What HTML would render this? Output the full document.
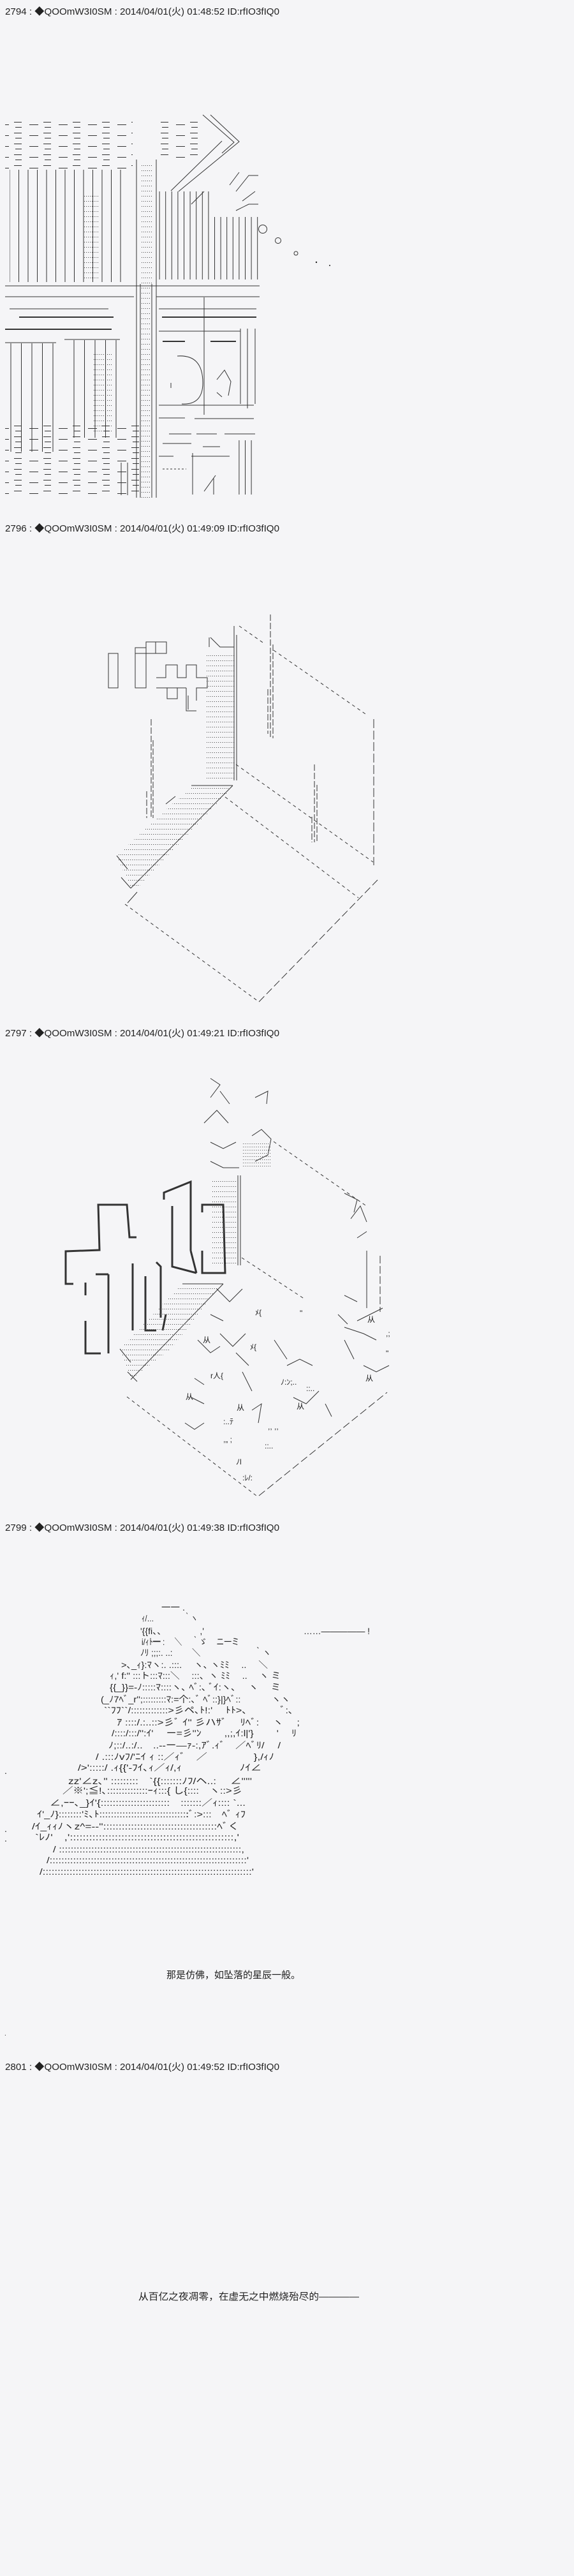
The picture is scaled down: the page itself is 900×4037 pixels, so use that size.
<!DOCTYPE html>
<html><head><meta charset="utf-8"><style>
html,body{margin:0;padding:0;background:#f5f5f7;}
body{width:900px;height:4037px;overflow:hidden;position:relative;}
svg{position:absolute;left:0;top:0;}
text{font-family:"Liberation Sans","Noto Sans CJK JP",sans-serif;fill:#222;}
</style></head><body>
<svg width="900" height="4037" viewBox="0 0 900 4037" xmlns="http://www.w3.org/2000/svg">
<defs>
<pattern id="v10" width="9.6" height="10" patternUnits="userSpaceOnUse"><rect x="0" y="0" width="1" height="10" fill="#333"/></pattern>
<pattern id="v14" width="14.5" height="10" patternUnits="userSpaceOnUse"><rect x="0" y="0" width="1" height="10" fill="#333"/></pattern>
<pattern id="v16" width="16.5" height="10" patternUnits="userSpaceOnUse"><rect x="0" y="0" width="1" height="10" fill="#333"/></pattern>
<pattern id="dots" width="3" height="8" patternUnits="userSpaceOnUse"><rect x="0" y="3" width="1" height="1" fill="#444"/></pattern>
<pattern id="dots2" width="3" height="5" patternUnits="userSpaceOnUse"><rect x="0" y="2" width="1" height="1" fill="#555"/></pattern>
<pattern id="hd" width="46" height="17" patternUnits="userSpaceOnUse"><rect x="0" y="8" width="14" height="1" fill="#333"/><rect x="22" y="4" width="12" height="1" fill="#333"/><rect x="24" y="12" width="10" height="1" fill="#333"/></pattern>
</defs>

<g font-size="15">
<text x="8" y="23" textLength="430" lengthAdjust="spacingAndGlyphs">2794 : ◆QOOmW3I0SM : 2014/04/01(火) 01:48:52 ID:rfIO3fIQ0</text>
<text x="8" y="833" textLength="430" lengthAdjust="spacingAndGlyphs">2796 : ◆QOOmW3I0SM : 2014/04/01(火) 01:49:09 ID:rfIO3fIQ0</text>
<text x="8" y="1624" textLength="430" lengthAdjust="spacingAndGlyphs">2797 : ◆QOOmW3I0SM : 2014/04/01(火) 01:49:21 ID:rfIO3fIQ0</text>
<text x="8" y="2399" textLength="430" lengthAdjust="spacingAndGlyphs">2799 : ◆QOOmW3I0SM : 2014/04/01(火) 01:49:38 ID:rfIO3fIQ0</text>
<text x="8" y="3244" textLength="430" lengthAdjust="spacingAndGlyphs">2801 : ◆QOOmW3I0SM : 2014/04/01(火) 01:49:52 ID:rfIO3fIQ0</text>
</g>

<!-- SECTION 1 -->
<g stroke="#333" stroke-width="1" fill="none">
<rect x="8" y="188" width="200" height="76" fill="url(#hd)" stroke="none"/>
<rect x="250" y="190" width="70" height="60" fill="url(#hd)" stroke="none"/>
<rect x="15" y="266" width="180" height="176" fill="url(#v14)" stroke="none"/>
<rect x="132" y="300" width="22" height="138" fill="url(#dots)" stroke="none"/>
<line x1="214" y1="250" x2="214" y2="780"/><line x1="245" y1="250" x2="245" y2="780"/>
<line x1="220" y1="445" x2="220" y2="780"/><line x1="238" y1="445" x2="238" y2="780"/>
<rect x="222" y="255" width="16" height="190" fill="url(#dots)" stroke="none"/>
<rect x="222" y="450" width="14" height="330" fill="url(#dots)" stroke="none"/>
<rect x="249" y="340" width="156" height="98" fill="url(#v10)" stroke="none"/>
<rect x="249" y="300" width="80" height="40" fill="url(#v10)" stroke="none"/>
<path d="M318 180 L367 223 L348 240 M330 180 L375 222 L280 300 M268 299 L348 221 M300 320 L320 300"/>
<path d="M360 290 L375 270 M370 300 L390 275 L405 275 M380 315 L400 300 M370 330 L390 320 L405 320"/>
<line x1="8" y1="448" x2="407" y2="448"/>
<line x1="8" y1="465" x2="210" y2="465"/><line x1="245" y1="465" x2="407" y2="465"/>
<line x1="15" y1="484" x2="170" y2="484"/><line x1="249" y1="484" x2="402" y2="484"/>
<line x1="30" y1="497" x2="178" y2="497" stroke-width="2"/><line x1="254" y1="497" x2="402" y2="497" stroke-width="2"/>
<line x1="8" y1="516" x2="175" y2="516" stroke-width="2"/><line x1="249" y1="519" x2="377" y2="519"/>
<line x1="8" y1="537" x2="88" y2="537"/><line x1="101" y1="532" x2="188" y2="532"/>
<rect x="15" y="538" width="70" height="170" fill="url(#v16)" stroke="none"/>
<rect x="101" y="533" width="88" height="153" fill="url(#v16)" stroke="none"/>
<rect x="146" y="550" width="30" height="130" fill="url(#dots)" stroke="none"/>
<line x1="320" y1="466" x2="320" y2="650"/>
<line x1="377" y1="515" x2="377" y2="633"/><line x1="388" y1="515" x2="388" y2="640"/><line x1="400" y1="515" x2="400" y2="633"/>
<line x1="255" y1="535" x2="290" y2="535" stroke-width="2"/><line x1="330" y1="535" x2="370" y2="535" stroke-width="2"/>
<path d="M278 558 Q318 555 318 600 Q318 635 285 633 M268 600 L268 608" />
<path d="M340 595 L352 580 L362 598 L358 620 M340 615 L348 622"/>
<line x1="249" y1="635" x2="398" y2="635"/>
<line x1="249" y1="655" x2="290" y2="655"/><line x1="305" y1="656" x2="398" y2="656"/>
<line x1="265" y1="680" x2="300" y2="680"/><line x1="308" y1="680" x2="340" y2="680"/><line x1="352" y1="680" x2="400" y2="680"/>
<line x1="255" y1="695" x2="300" y2="695"/><line x1="318" y1="700" x2="345" y2="700"/>
<rect x="368" y="690" width="32" height="85" fill="url(#v10)" stroke="none"/>
<line x1="249" y1="715" x2="272" y2="715"/><line x1="300" y1="715" x2="360" y2="715"/>
<line x1="302" y1="710" x2="302" y2="775"/><line x1="335" y1="750" x2="335" y2="775"/><line x1="320" y1="770" x2="338" y2="745"/>
<line x1="255" y1="735" x2="292" y2="735" stroke-dasharray="3 3"/>
<rect x="8" y="666" width="210" height="110" fill="url(#hd)" stroke="none"/>
<line x1="190" y1="725" x2="190" y2="776"/><line x1="200" y1="725" x2="200" y2="776"/>
<circle cx="412" cy="359" r="6.5"/><circle cx="436" cy="377" r="4.5"/><circle cx="464" cy="397" r="3"/>
</g>
<circle cx="496" cy="411" r="1.2" fill="#222"/><circle cx="517" cy="416" r="1" fill="#222"/>

<!-- SECTION 2 -->
<g stroke="#333" stroke-width="1" fill="none">
<path d="M375 981 L415 1009 M429 1019 L576 1121" stroke-dasharray="5 5"/>
<line x1="586" y1="1127" x2="586" y2="1356" stroke-dasharray="14 4"/>
<path d="M196 1417 L406 1570" stroke-dasharray="5 5"/>
<path d="M406 1570 L592 1379" stroke-dasharray="12 5"/>
<path d="M370 1198 L585 1351" stroke-dasharray="5 5"/>
<path d="M353 1249 L562 1407" stroke-dasharray="5 5"/>
<line x1="367" y1="981" x2="367" y2="1223"/><line x1="371" y1="995" x2="371" y2="1223"/>
<path d="M328 999 L328 1014 M330 999 L345 1014 L367 1014"/>
<rect x="324" y="1020" width="44" height="200" fill="url(#dots)" stroke="none"/>
<rect x="170" y="1024" width="15" height="54"/>
<rect x="212" y="1024" width="17" height="54"/>
<path d="M212 1024 L212 1015 L229 1015 M229 1006 L261 1006 L261 1024 L229 1024 Z M244 1006 L244 1024"/>
<path d="M245 1062 L260 1062 L260 1042 L278 1042 L278 1062 L292 1062 L292 1042 L308 1042 L308 1062 L325 1062 L325 1078 L308 1078 L308 1098 M292 1078 L278 1078 L278 1095 L262 1095 L262 1078 L245 1078 Z M292 1078 L292 1114 L308 1114 M295 1090 L295 1112"/>
<path d="M237 1127 L237 1282 M240 1160 L240 1282 M230 1240 L230 1282" stroke-dasharray="10 3"/>
<path d="M424 963 L424 1157 M428 1010 L428 1157 M420 1080 L420 1150" stroke-dasharray="10 3"/>
<path d="M493 1198 L493 1320 M497 1230 L497 1320 M489 1280 L489 1320" stroke-dasharray="10 3"/>
<polygon points="304,1231 367,1231 215,1392 205,1392 183,1341 270,1260" fill="url(#dots)" stroke="none"/>
<path d="M300 1231 L365 1231 M365 1231 L205 1392 M183 1341 L200 1362 M260 1260 L275 1248 M205 1392 L190 1375"/>
<path d="M200 1415 L215 1398"/>
</g>

<!-- SECTION 3 -->
<g stroke="#333" stroke-width="1" fill="none">
<path d="M429 1789 L576 1891" stroke-dasharray="5 5"/>
<line x1="596" y1="1968" x2="596" y2="2056" stroke-dasharray="12 4"/>
<path d="M199 2189 L402 2344" stroke-dasharray="5 5"/>
<path d="M406 2344 L607 2182" stroke-dasharray="12 5"/>
<path d="M379 1971 L478 2036" stroke-dasharray="5 5"/>
<line x1="373" y1="1842" x2="373" y2="1983"/><line x1="377" y1="1842" x2="377" y2="1983"/>
<rect x="332" y="1845" width="40" height="135" fill="url(#dots)" stroke="none"/>
<path d="M330 1690 L345 1700 L330 1720 M345 1710 L360 1730 M320 1760 L340 1740 L358 1760 M330 1790 L350 1800 L370 1790 M400 1720 L420 1710 L418 1730 M395 1780 L410 1770 L425 1785 L420 1810 L400 1820 M330 1820 L350 1830 L375 1830"/>
<rect x="380" y="1790" width="45" height="40" fill="url(#dots2)" stroke="none"/>
<g stroke-width="3">
<path d="M103 1981 L103 1961 L156 1959 L154 1888 L199 1888 L203 1939 L214 1939 M103 1961 L103 2012 L115 2012"/>
<path d="M257 1880 L257 1869 L299 1852 L299 1960 M270 1890 L270 1985 L308 1995 M299 1960 L308 1995"/>
<path d="M317 1900 L317 1888 L350 1888 L353 1995 L317 1995 L317 1960"/>
<path d="M134 2010 L134 2030 M170 1997 L170 2121 M134 2070 L134 2121 L158 2121 M150 1997 L170 1997"/>
<path d="M208 1980 L208 2085 M245 1978 L252 1985 L252 2065 M228 2000 L228 2085 L245 2085 M260 2060 L255 2085"/>
</g>
<polygon points="286,2012 348,2012 268,2114 205,2162 188,2114" fill="url(#dots)" stroke="none"/>
<path d="M286 2012 L350 2012 M350 2012 L205 2162 M188 2114 L205 2135 M200 2150 L215 2165"/>
<path d="M540 1870 L560 1880 L555 1900 M550 1910 L565 1890 L575 1915 M560 1940 L575 1930 M575 1960 L575 2050 M600 2050 L560 2070 M540 2080 L570 2090 L590 2100 M540 2100 L555 2130 M570 2140 L590 2150 L610 2140 M540 2030 L560 2040 M530 2060 L545 2075"/>
<path d="M340 2020 L360 2040 L380 2020 M330 2060 L350 2070 M345 2090 L365 2110 L385 2090 M370 2120 L390 2140 M380 2150 L395 2180 M310 2100 L330 2120 L345 2110 M305 2160 L320 2170 M300 2190 L320 2200 M290 2230 L305 2240 L320 2230 M395 2210 L410 2200 L405 2230 M430 2100 L450 2130 M450 2140 L470 2130 L490 2140 M460 2190 L480 2200 L500 2180 M510 2200 L520 2220"/>
</g>
<g font-size="12" fill="#222">
<text x="318" y="2104">从</text><text x="291" y="2193">从</text><text x="371" y="2210">从</text><text x="465" y="2208">从</text><text x="576" y="2072">从</text><text x="573" y="2164">从</text><text x="392" y="2115">ﾒ{</text><text x="400" y="2061">ﾒ{</text>
<text x="350" y="2232">:..ﾃ</text><text x="420" y="2240">,, ,,</text><text x="415" y="2270">::..</text><text x="370" y="2295">ﾉl</text><text x="380" y="2320">:ﾚ/:</text><text x="480" y="2180">::..</text><text x="440" y="2170">ﾉ:ﾝ;..</text>
<text x="350" y="2260">,„ ;</text><text x="330" y="2160">r人{</text><text x="470" y="2062">"</text><text x="605" y="2094">,;</text><text x="605" y="2125">"</text>
</g>

<!-- SECTION 4 text -->
<g font-size="14" fill="#222">
<text x="253" y="2524" textLength="37" lengthAdjust="spacingAndGlyphs">一一 .</text>
<text x="222" y="2541" textLength="88" lengthAdjust="spacingAndGlyphs">ｨ/…　　　　 ｀ヽ</text>
<text x="220" y="2561" textLength="100" lengthAdjust="spacingAndGlyphs">'{{fi、、　　　　 ,'</text>
<text x="222" y="2578" textLength="153" lengthAdjust="spacingAndGlyphs">i/ｨﾄ━ :　 ＼　 ｀ゞ　 ニ一ミ</text>
<text x="220" y="2595" textLength="205" lengthAdjust="spacingAndGlyphs">ﾉﾘ ;;;:. ..:　　 ＼　　　　　　 ｀ヽ</text>
<text x="190" y="2614" textLength="230" lengthAdjust="spacingAndGlyphs">>､_ｨ}:ﾏヽ:. .:::.　 ヽ､ ヽﾐﾐ　 ..　 ＼</text>
<text x="172" y="2631" textLength="268" lengthAdjust="spacingAndGlyphs">ｨ,' f:'' :::ト:::ﾏ:::＼　 :::、ヽ ﾐﾐ　 ..　 ヽ ミ</text>
<text x="172" y="2649" textLength="268" lengthAdjust="spacingAndGlyphs">{{_}}=-ﾉ:::::ﾏ::::ヽ､ ﾍﾞ:､ ﾞｲ:ヽ､　 ヽ　 ミ</text>
<text x="158" y="2668" textLength="297" lengthAdjust="spacingAndGlyphs">(_ﾉ7ﾍﾞ_r'';:::::::::ﾏ:=个:､ﾞ ﾍﾞ::}|}ﾍﾞ::　　　 ヽヽ</text>
<text x="163" y="2685" textLength="297" lengthAdjust="spacingAndGlyphs">``ﾌﾌ``/:::::::::::::>彡ペ､ﾄ!:'　 ﾄﾄ>､　　　 ﾞ:､</text>
<text x="183" y="2704" textLength="287" lengthAdjust="spacingAndGlyphs">ｱ ::::/.:..::>彡ﾞ ｲ'' 彡ハｻﾞ　 ﾘﾍﾞ:　 ヽ　 ;</text>
<text x="175" y="2721" textLength="290" lengthAdjust="spacingAndGlyphs">/::::/:::/'':ｲ'　 ー=彡''ﾝ　　 ,,;,ｲ:l|'}　　 '　 ﾘ</text>
<text x="170" y="2740" textLength="270" lengthAdjust="spacingAndGlyphs">ﾉ;::/..:/..　..--ー―ｧ-:,ｱﾞ.ｨﾞ　／ﾍﾞﾘ/　 /</text>
<text x="150" y="2758" textLength="280" lengthAdjust="spacingAndGlyphs">/ .:::ﾉvﾌ/'ﾆｲ ｨ ::／ｨﾞ　／　　　　 },/ｨﾉ</text>
<text x="122" y="2775" textLength="288" lengthAdjust="spacingAndGlyphs">/>':::::/ .ｨ{{'-ﾌｲ､ｨ／ｨ/,ｨ　　　　　 ﾉｲ∠</text>
<text x="107" y="2796" textLength="288" lengthAdjust="spacingAndGlyphs">zz'∠z､'' :::::::::　`{{:::::::ﾉﾌ/ヘ..:　 ∠'''''</text>
<text x="98" y="2811" textLength="282" lengthAdjust="spacingAndGlyphs">／※';≦!､::::::::::::::ｰｨ:::{ し{::::　ヽ::>彡</text>
<text x="78" y="2830" textLength="307" lengthAdjust="spacingAndGlyphs">∠,ｰｰ､_}ｲ'{:::::::::::::::::::::::　:::::::／ｨ:::: `...</text>
<text x="58" y="2848" textLength="327" lengthAdjust="spacingAndGlyphs">ｲ'_ﾉ}::::::::'ﾐ､ﾄ:::::::::::::::::::::::::::::::ﾞ:>:::　ﾍﾞ ｨﾌ</text>
<text x="50" y="2867" textLength="325" lengthAdjust="spacingAndGlyphs">/ｲ_ｨｨﾉヽz^=--'':::::::::::::::::::::::::::::::::::::ﾍﾞく</text>
<text x="55" y="2884" textLength="320" lengthAdjust="spacingAndGlyphs">`ﾚﾉ'　,':::::::::::::::::::::::::::::::::::::::::::::::::::,'</text>
<text x="83" y="2903" textLength="300" lengthAdjust="spacingAndGlyphs">/ ::::::::::::::::::::::::::::::::::::::::::::::::::::::::::::::,</text>
<text x="73" y="2920" textLength="317" lengthAdjust="spacingAndGlyphs">/:::::::::::::::::::::::::::::::::::::::::::::::::::::::::::::::::::'</text>
<text x="62" y="2938" textLength="336" lengthAdjust="spacingAndGlyphs">/::::::::::::::::::::::::::::::::::::::::::::::::::::::::::::::::::::::'</text>
<text x="7" y="2780">.</text><text x="7" y="2871">.</text><text x="7" y="2886">.</text>
<text x="476" y="2561" textLength="104" lengthAdjust="spacingAndGlyphs">……————— !</text>
</g>

<!-- SECTION 5 -->
<g font-size="15" fill="#111">
<text x="261" y="3100" textLength="210" lengthAdjust="spacingAndGlyphs">那是仿佛，如坠落的星辰一般。</text>
<text x="7" y="3190" font-size="10">.</text>
<text x="217" y="3604" textLength="346" lengthAdjust="spacingAndGlyphs">从百亿之夜凋零，在虚无之中燃烧殆尽的————</text>
</g>
</svg>
</body></html>
